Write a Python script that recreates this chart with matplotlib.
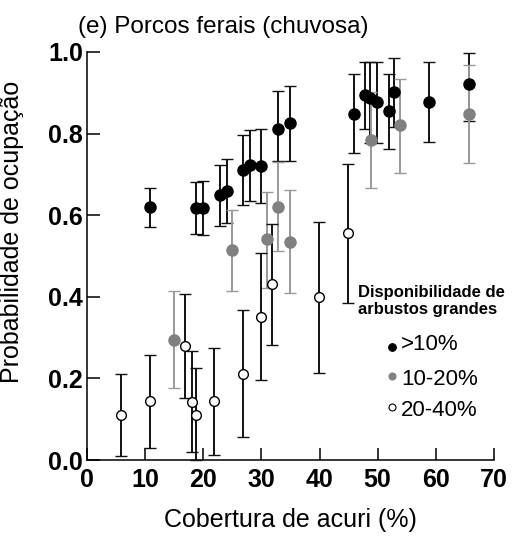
import matplotlib
matplotlib.use('Agg')
import matplotlib.pyplot as plt
import numpy as np

plt.rcParams['font.family'] = ['Liberation Sans', 'DejaVu Sans']

# >10% shrub availability (black)
x_hi = [10.9, 18.8, 20.0, 22.9, 24.0, 26.9, 28.0, 29.9, 32.9, 34.9,
        45.9, 47.9, 48.7, 49.9, 51.9, 52.9, 58.9, 65.8]
y_hi = [0.620, 0.617, 0.617, 0.650, 0.659, 0.711, 0.722, 0.720, 0.811, 0.827,
        0.849, 0.895, 0.886, 0.877, 0.855, 0.901, 0.878, 0.921]
lo_hi = [0.572, 0.553, 0.551, 0.574, 0.580, 0.625, 0.635, 0.630, 0.734, 0.734,
         0.752, 0.811, 0.776, 0.776, 0.762, 0.817, 0.780, 0.830]
up_hi = [0.667, 0.682, 0.685, 0.724, 0.738, 0.797, 0.809, 0.811, 0.904, 0.917,
         0.945, 0.975, 0.975, 0.975, 0.945, 0.984, 0.975, 0.998]

# 10-20% (grey)
x_mid = [15.0, 24.9, 30.9, 32.9, 34.9, 48.8, 53.8, 65.8]
y_mid = [0.294, 0.515, 0.541, 0.621, 0.535, 0.784, 0.820, 0.849]
lo_mid = [0.176, 0.415, 0.422, 0.513, 0.409, 0.666, 0.703, 0.727]
up_mid = [0.414, 0.613, 0.658, 0.731, 0.662, 0.903, 0.934, 0.968]

# 20-40% (open)
x_low = [5.84, 10.9, 16.9, 18.0, 18.8, 21.9, 26.9, 29.9, 31.8, 39.9, 44.9]
y_low = [0.110, 0.145, 0.279, 0.142, 0.111, 0.145, 0.212, 0.351, 0.431, 0.400, 0.556]
lo_low = [0.010, 0.030, 0.151, 0.019, 0.000, 0.012, 0.057, 0.195, 0.282, 0.214, 0.386]
up_low = [0.211, 0.257, 0.407, 0.268, 0.226, 0.275, 0.367, 0.508, 0.578, 0.584, 0.725]

legend_labels = ['>10%', '10-20%', '20-40%']
x_ticks = [0, 10, 20, 30, 40, 50, 60, 70]
y_ticks = [0.0, 0.2, 0.4, 0.6, 0.8, 1.0]

fig = plt.figure(figsize=(5.15, 5.47), dpi=100)
ax = fig.add_axes([0.169, 0.159, 0.790, 0.746])


def draw(x, y, lo, up, mfc, mec, ecol, ms):
    y = np.array(y)
    err = [y - np.array(lo), np.array(up) - y]
    ax.errorbar(x, y, yerr=err, fmt='o', ms=ms, mfc=mfc, mec=mec, mew=1.0,
                ecolor=ecol, elinewidth=1.4, capsize=4, capthick=1.4,
                clip_on=False, zorder=3)


draw(x_hi, y_hi, lo_hi, up_hi, 'black', 'black', '#111111', 8)
draw(x_mid, y_mid, lo_mid, up_mid, '#808080', '#808080', '#999999', 8)
draw(x_low, y_low, lo_low, up_low, 'white', 'black', '#111111', 7)

ax.set_xlim(0, 70)
ax.set_ylim(0, 1.0)
ax.set_xticks(x_ticks)
ax.set_yticks(y_ticks)
ax.set_yticklabels([f'{v:.1f}' for v in y_ticks])
ax.spines['top'].set_visible(False)
ax.spines['right'].set_visible(False)
for s in ['left', 'bottom']:
    ax.spines[s].set_linewidth(1.1)
ax.tick_params(direction='in', length=9, width=1.1, labelsize=18)
ax.tick_params(axis='x', pad=6)
ax.tick_params(axis='y', pad=3)
for lab in ax.get_xticklabels() + ax.get_yticklabels():
    lab.set_fontweight('bold')

ax.set_xlabel('Cobertura de acuri (%)', fontsize=18, labelpad=11)
ax.set_ylabel('Probabilidade de ocupação', fontsize=18, labelpad=6)
ax.yaxis.set_label_coords(-0.155, 0.56)
fig.text(78 / 515, 1 - 33 / 547, '(e) Porcos ferais (chuvosa)', fontsize=17.5,
         ha='left', va='baseline')

# legend
ax.text(0.665, 0.428, 'Disponibilidade de\narbustos grandes', transform=ax.transAxes,
        fontsize=12, fontweight='bold', ha='left', va='top', linespacing=1.1)
leg_text_y = [0.282, 0.197, 0.121]
leg_mark_y = [0.277, 0.206, 0.131]
leg_style = [('black', 'black', 5.5), ('#808080', '#808080', 5), ('white', 'black', 5)]
for ty, my, lab, (fc, ec, ms) in zip(leg_text_y, leg_mark_y, legend_labels, leg_style):
    ax.plot([0.75], [my], 'o', ms=ms, mfc=fc, mec=ec, mew=0.8,
            transform=ax.transAxes, clip_on=False)
    ax.text(0.772, ty, lab, transform=ax.transAxes, fontsize=16,
            ha='left', va='center')

fig.savefig('out.png', dpi=100)
